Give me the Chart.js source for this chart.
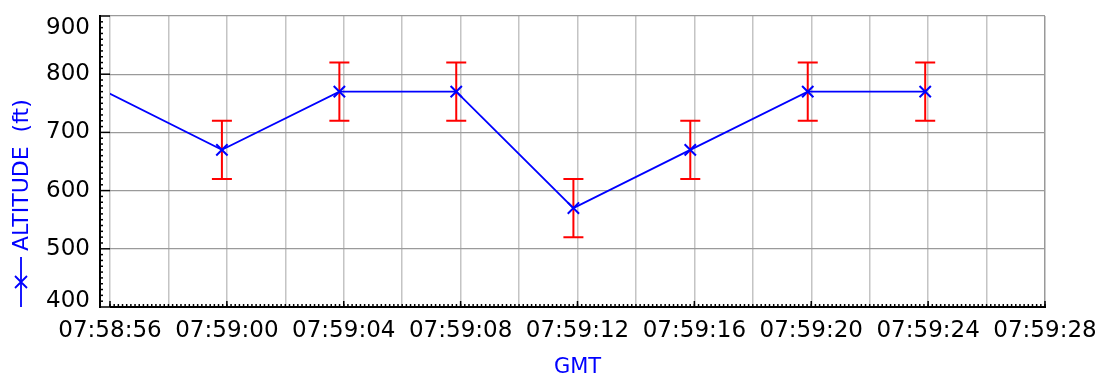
<!DOCTYPE html>
<html>
<head>
<meta charset="utf-8">
<script src="https://cdn.jsdelivr.net/npm/chart.js@4.4.1/dist/chart.umd.min.js"></script>
<style>
  html, body { margin: 0; padding: 0; background: #fff; }
  #wrap { width: 1096px; height: 376px; }
</style>
</head>
<body>
<div id="wrap"><canvas id="chart" width="1096" height="376"></canvas></div>
<script>
// --- Data ---
const times = ['07:58:55.85', '07:58:59.83', '07:59:03.85', '07:59:07.85', '07:59:11.86', '07:59:15.86', '07:59:19.88', '07:59:23.9'];
const altitude = [770, 670, 770, 770, 570, 670, 770, 770];
const altError = [50, 50, 50, 50, 50, 50, 50, 50];

const xStart = '07:58:56';
const xEnd = '07:59:28';
const yMin = 400;
const yMax = 900;

const FONT = 'DejaVu Sans';
const BLUE = '#0000ff';

function toSec(s) {
    const p = s.split(':');
    return (+p[0]) * 3600 + (+p[1]) * 60 + (+p[2]);
}
function pad(n) { return String(n).padStart(2, '0'); }
function fmt(v) {
    const t = Math.round(v);
    return pad(Math.floor(t / 3600)) + ':' + pad(Math.floor(t / 60) % 60) + ':' + pad(t % 60);
}

const x0 = toSec(xStart);
const x1 = toSec(xEnd);
const inRange = (t) => toSec(t) >= x0 && toSec(t) <= x1;

// --- Barras de erro (abaixo da linha) ---
const errorBars = {
    id: 'errorBars',
    beforeDatasetsDraw(chart) {
        const { ctx, chartArea, scales } = chart;
        ctx.save();
        ctx.beginPath();
        ctx.rect(chartArea.left, chartArea.top, chartArea.right - chartArea.left, chartArea.bottom - chartArea.top);
        ctx.clip();
        ctx.strokeStyle = '#ff0000';
        ctx.lineWidth = 2;
        times.forEach((t, i) => {
            if (!inRange(t)) return; // fora do intervalo: sem barra
            const px = scales.x.getPixelForValue(toSec(t));
            const yLo = scales.y.getPixelForValue(altitude[i] - altError[i]);
            const yHi = scales.y.getPixelForValue(altitude[i] + altError[i]);
            ctx.beginPath();
            ctx.moveTo(px, yLo); ctx.lineTo(px, yHi);
            ctx.moveTo(px - 10, yLo); ctx.lineTo(px + 10, yLo);
            ctx.moveTo(px - 10, yHi); ctx.lineTo(px + 10, yHi);
            ctx.stroke();
        });
        ctx.restore();
    }
};

// --- Eixos estilo IDL ---
const axesDecor = {
    id: 'axesDecor',
    afterDraw(chart) {
        const { ctx, chartArea, scales } = chart;
        const { left, right, top, bottom } = chartArea;
        const axisX = left - 10;
        ctx.save();
        ctx.strokeStyle = '#000';

        // eixo Y
        ctx.lineWidth = 2;
        ctx.beginPath();
        ctx.moveTo(axisX, top - 1); ctx.lineTo(axisX, bottom + 1);
        ctx.stroke();
        ctx.lineWidth = 1.5;
        for (let v = yMin; v <= yMax; v += 10) {
            const py = scales.y.getPixelForValue(v);
            const major = v % 100 === 0;
            ctx.beginPath();
            ctx.moveTo(axisX, py); ctx.lineTo(axisX + (major ? 10 : 3), py);
            ctx.stroke();
        }

        // eixo X
        ctx.lineWidth = 2;
        ctx.beginPath();
        ctx.moveTo(left, bottom); ctx.lineTo(right + 1, bottom);
        ctx.stroke();
        ctx.lineWidth = 1.5;
        const minorStep = 2 / 14;
        for (let k = 0; k <= (x1 - x0) / minorStep + 0.001; k++) {
            const v = x0 + k * minorStep;
            const px = scales.x.getPixelForValue(v);
            ctx.beginPath();
            ctx.moveTo(px, bottom); ctx.lineTo(px, bottom - 3);
            ctx.stroke();
        }
        for (let v = x0; v <= x1; v += 4) {
            const px = scales.x.getPixelForValue(v);
            ctx.beginPath();
            ctx.moveTo(px, bottom); ctx.lineTo(px, bottom - 6);
            ctx.stroke();
        }

        // rótulos Y
        ctx.fillStyle = '#000';
        ctx.font = '23px "' + FONT + '"';
        ctx.textAlign = 'right';
        ctx.textBaseline = 'middle';
        for (let v = yMin; v <= yMax; v += 100) {
            const py = scales.y.getPixelForValue(v);
            const cy = Math.min(Math.max(py, top + 12), bottom - 6);
            ctx.fillText(String(v), axisX - 10, cy);
        }

        // título Y com amostra da legenda
        ctx.strokeStyle = BLUE;
        ctx.fillStyle = BLUE;
        ctx.lineWidth = 1.8;
        const tx = 21;
        ctx.beginPath();
        ctx.moveTo(tx, bottom); ctx.lineTo(tx, bottom - 50);
        ctx.stroke();
        const my = bottom - 25;
        ctx.beginPath();
        ctx.moveTo(tx - 6, my - 6); ctx.lineTo(tx + 6, my + 6);
        ctx.moveTo(tx - 6, my + 6); ctx.lineTo(tx + 6, my - 6);
        ctx.stroke();
        ctx.translate(tx, bottom - 56);
        ctx.rotate(-Math.PI / 2);
        ctx.font = '22px "' + FONT + '"';
        ctx.textAlign = 'left';
        ctx.textBaseline = 'middle';
        ctx.fillText('ALTITUDE  (ft)', 0, 1);
        ctx.setTransform(1, 0, 0, 1, 0, 0);

        // título X
        ctx.font = '21px "' + FONT + '"';
        ctx.textAlign = 'center';
        ctx.fillText('GMT', (left + right) / 2, 368);
        ctx.restore();
    }
};

new Chart(document.getElementById('chart'), {
    type: 'line',
    data: {
        datasets: [{
            data: times.map((t, i) => ({ x: toSec(t), y: altitude[i] })),
            borderColor: BLUE,
            borderWidth: 1.8,
            pointStyle: 'crossRot',
            pointRadius: times.map(t => (inRange(t) ? 8 : 0)),
            pointBorderColor: BLUE,
            pointBorderWidth: 2,
            tension: 0,
            clip: 0
        }]
    },
    options: {
        responsive: false,
        animation: false,
        devicePixelRatio: 1,
        layout: { padding: { top: 16, right: 51, left: 0, bottom: 0 } },
        plugins: { legend: { display: false }, tooltip: { enabled: false } },
        scales: {
            x: {
                type: 'linear',
                min: x0,
                max: x1,
                afterFit: (s) => { s.height = 69; s.paddingLeft = 0; s.paddingRight = 0; },
                ticks: {
                    stepSize: 2,
                    autoSkip: false,
                    maxRotation: 0,
                    padding: 10,
                    color: '#000',
                    font: { family: FONT, size: 23 },
                    callback: (v) => ((v - x0) % 4 === 0 ? fmt(v) : '')
                },
                grid: {
                    drawTicks: false,
                    color: (c) => (c.tick && c.tick.value === x1 ? '#999' : '#c4c4c4'),
                    lineWidth: 1.5
                },
                border: { display: false }
            },
            y: {
                min: yMin,
                max: yMax,
                afterFit: (s) => { s.width = 110; },
                ticks: { stepSize: 100, display: false },
                grid: { drawTicks: false, color: '#9a9a9a', lineWidth: 1.2 },
                border: { display: false }
            }
        }
    },
    plugins: [errorBars, axesDecor]
});
</script>
</body>
</html>
